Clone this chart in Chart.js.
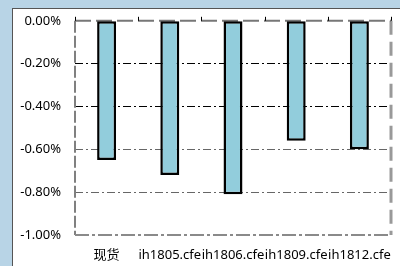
<!DOCTYPE html>
<html>
<head>
<meta charset="utf-8">
<script src="https://cdn.jsdelivr.net/npm/chart.js@4/dist/chart.umd.min.js"></script>
<style>
  html, body { margin: 0; padding: 0; background: #b8d4e6; width: 400px; height: 266px; overflow: hidden; }
  #panel { position: absolute; left: 12px; top: 8px; width: 400px; height: 270px; background: #fff; border: 1px solid #555; }
  #wrap { position: absolute; left: 13px; top: -1px; width: 387px; height: 267px; }
</style>
</head>
<body>
<div id="panel"></div>
<div id="wrap"><canvas id="chart"></canvas></div>
<script>
const categories = ['现货', 'ih1805.cfe', 'ih1806.cfe', 'ih1809.cfe', 'ih1812.cfe'];
const values = [-0.65, -0.72, -0.81, -0.56, -0.60];
const yTicks = [0, -0.2, -0.4, -0.6, -0.8, -1.0];

const FONT = '"Noto Sans", "Noto Sans CJK SC", sans-serif';

function line(ctx, x1, y1, x2, y2, color, width, dash) {
    ctx.save();
    ctx.strokeStyle = color;
    ctx.lineWidth = width;
    ctx.setLineDash(dash);
    ctx.beginPath();
    ctx.moveTo(x1, y1);
    ctx.lineTo(x2, y2);
    ctx.stroke();
    ctx.restore();
}

// dashed frame round the plot, drawn under the bars
const frame = {
    id: 'frame',
    beforeDatasetsDraw: chart => {
        const { ctx, chartArea: a, scales } = chart;
        line(ctx, a.left, a.top, a.left, a.bottom, '#808080', 2, [12, 3]);
        line(ctx, a.left, a.bottom, a.right, a.bottom, '#8a8a8a', 2, [14, 3, 3, 3]);
        line(ctx, a.right, a.top, a.right, a.bottom, '#999', 3, [14, 7]);
        line(ctx, a.left, a.top, a.right, a.top, '#777', 2, [16, 5]);
        // small tick marks above the zero line at category boundaries
        const x = scales.x;
        const step = (a.right - a.left) / categories.length;
        for (let i = 0; i <= categories.length; i++) {
            const px = Math.round(x.getPixelForValue(i) - step / 2) + 0.5;
            line(ctx, px, a.top - 4, px, a.top, '#000', 1, []);
        }
    }
};

new Chart(document.getElementById('chart'), {
    type: 'bar',
    data: {
        labels: categories,
        datasets: [{
            data: values,
            backgroundColor: '#92cddc',
            borderColor: '#000',
            borderWidth: 2.5,
            borderSkipped: false,
            barPercentage: 0.3,
            categoryPercentage: 1
        }]
    },
    options: {
        responsive: true,
        maintainAspectRatio: false,
        animation: false,
        layout: { padding: { left: 0, top: 2, right: 9, bottom: 0 } },
        plugins: { legend: { display: false }, tooltip: { enabled: false } },
        scales: {
            x: {
                grid: { display: false },
                border: { display: false },
                ticks: {
                    autoSkip: false, maxRotation: 0, padding: 4,
                    color: '#000', font: { family: FONT, size: 13 }
                },
                afterFit: s => { s.height = 31; }
            },
            y: {
                min: -1, max: 0,
                afterBuildTicks: s => { s.ticks = yTicks.map(v => ({ value: v })); },
                grid: {
                    drawTicks: false,
                    color: ctx => {
                        const v = ctx.tick ? ctx.tick.value : 0;
                        if (v === 0 || v <= -0.999) return 'rgba(0,0,0,0)';
                        return v > -0.5 ? '#000' : '#666';
                    },
                    lineWidth: 1
                },
                border: { display: false, dash: [8, 3, 2, 3] },
                ticks: {
                    padding: 14,
                    color: '#000',
                    font: { family: FONT, size: 13 },
                    callback: v => (v * 1).toFixed(2) + '%'
                },
                afterFit: s => { s.width = 62; }
            }
        }
    },
    plugins: [frame]
});
</script>
</body>
</html>
